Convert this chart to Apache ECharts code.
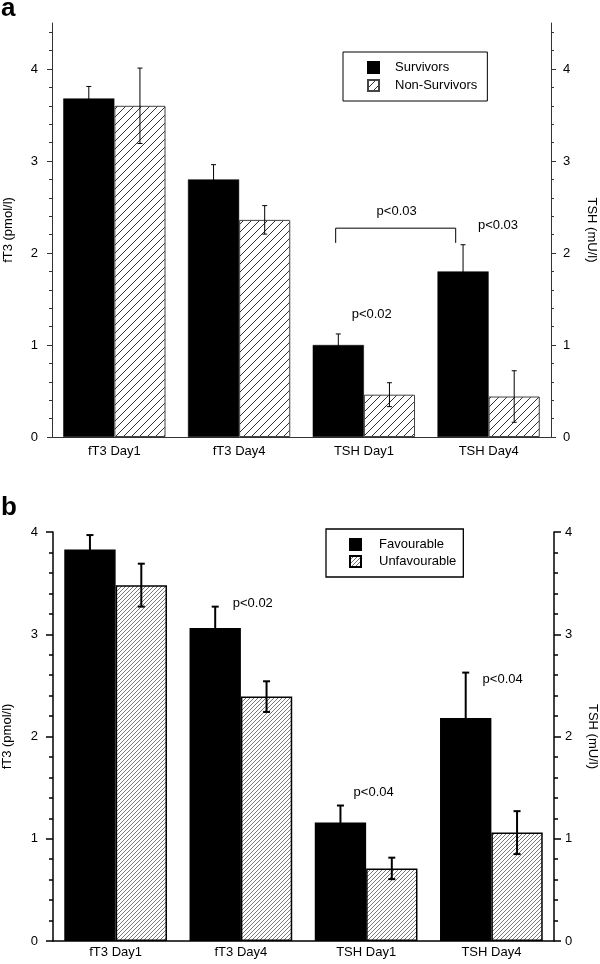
<!DOCTYPE html>
<html>
<head>
<meta charset="utf-8">
<script src="https://cdn.jsdelivr.net/npm/echarts@6/dist/echarts.min.js"></script>
<style>
html,body{margin:0;padding:0;background:#fff;}
#chart{width:600px;height:964px;}
</style>
</head>
<body>
<div id="chart"></div>
<script>
// ---------- data ----------
const categories = ['fT3 Day1', 'fT3 Day4', 'TSH Day1', 'TSH Day4'];

// panel a
const survivors        = [3.68, 2.80, 1.00, 1.80];
const survivorsErr     = [0.13, 0.16, 0.12, 0.29];
const nonSurvivors     = [3.60, 2.36, 0.46, 0.44];
const nonSurvivorsErr  = [0.41, 0.155, 0.13, 0.28];

// panel b
const favourable       = [3.83, 3.06, 1.16, 2.18];
const favourableErr    = [0.14, 0.21, 0.165, 0.445];
const unfavourable     = [3.48, 2.39, 0.71, 1.06];
const unfavourableErr  = [0.21, 0.15, 0.105, 0.21];

// axis ticks
const majorTicks  = [0, 1, 2, 3, 4];
const minorTicksA = [0.2,0.4,0.6,0.8,1.2,1.4,1.6,1.8,2.2,2.4,2.6,2.8,3.2,3.4,3.6,3.8,4.2,4.4];
const minorTicksB = [0.2,0.4,0.6,0.8,1.2,1.4,1.6,1.8,2.2,2.4,2.6,2.8,3.2,3.4,3.6,3.8];
const yMaxA = 4.5;
const yMaxB = 4;

// annotations: category index, offset within band (fraction of band), value, text
const notesA = [
  {cat: 2, dx: 0.063, y: 1.33, text: 'p<0.02'},
  {cat: 2, dx: 0.263, y: 2.45, text: 'p<0.03'},
  {cat: 3, dx: 0.075, y: 2.30, text: 'p<0.03'}
];
const bracketA = [{cat1: 2, dx1: -0.226, cat2: 3, dx2: -0.264, top: 2.27, leg: 2.11}];
const notesB = [
  {cat: 1, dx: 0.095, y: 3.30, text: 'p<0.02'},
  {cat: 2, dx: 0.060, y: 1.45, text: 'p<0.04'},
  {cat: 3, dx: 0.090, y: 2.56, text: 'p<0.04'}
];

// ---------- styles ----------
const FONT = '"Liberation Sans", Arial, Helvetica, sans-serif';
const BAR_FRAC = 0.41;

function hatch(size, color, lw) {
  const c = document.createElement('canvas');
  c.width = size; c.height = size;
  const ctx = c.getContext('2d');
  ctx.fillStyle = '#fff';
  ctx.fillRect(0, 0, size, size);
  ctx.strokeStyle = color;
  ctx.lineWidth = lw;
  ctx.beginPath();
  ctx.moveTo(0, size); ctx.lineTo(size, 0);
  ctx.moveTo(-size/2, size/2); ctx.lineTo(size/2, -size/2);
  ctx.moveTo(size/2, size*1.5); ctx.lineTo(size*1.5, size/2);
  ctx.stroke();
  return {image: c, repeat: 'repeat'};
}
const hatchA = hatch(8, '#333', 1);
const hatchB = hatch(4, '#777', 1);

function errSeries(xIdx, yIdx, vals, errs, side, lw, cap, color) {
  return {
    type: 'custom', xAxisIndex: xIdx, yAxisIndex: yIdx, z: 10, silent: true,
    data: vals.map((v, i) => [i, v - errs[i], v + errs[i]]),
    renderItem: function (params, api) {
      const c = api.value(0);
      const lo = api.coord([c, api.value(1)]);
      const hi = api.coord([c, api.value(2)]);
      const bw = api.size([1, 0])[0] * BAR_FRAC;
      const x = lo[0] + side * bw / 2;
      const st = {stroke: color, lineWidth: lw, fill: null};
      return {type: 'group', children: [
        {type: 'line', shape: {x1: x, y1: lo[1], x2: x, y2: hi[1]}, style: st},
        {type: 'line', shape: {x1: x - cap, y1: hi[1], x2: x + cap, y2: hi[1]}, style: st},
        {type: 'line', shape: {x1: x - cap, y1: lo[1], x2: x + cap, y2: lo[1]}, style: st}
      ]};
    }
  };
}

function noteSeries(xIdx, yIdx, notes, size) {
  return {
    type: 'custom', xAxisIndex: xIdx, yAxisIndex: yIdx, z: 11, silent: true,
    data: notes.map(n => [n.cat, n.y, n.dx]),
    renderItem: function (params, api) {
      const p = api.coord([api.value(0), api.value(1)]);
      const band = api.size([1, 0])[0];
      const n = notes[params.dataIndex];
      return {type: 'text', x: p[0] + api.value(2) * band, y: p[1],
        style: {text: n.text, fill: '#000', fontSize: size, fontFamily: FONT,
                align: 'center', verticalAlign: 'middle'}};
    }
  };
}

function bracketSeries(xIdx, yIdx, br) {
  return {
    type: 'custom', xAxisIndex: xIdx, yAxisIndex: yIdx, z: 11, silent: true,
    data: br.map(b => [b.cat1, b.cat2, b.top, b.leg]),
    renderItem: function (params, api) {
      const b = br[params.dataIndex];
      const band = api.size([1, 0])[0];
      const p1 = api.coord([b.cat1, b.top]);
      const p2 = api.coord([b.cat2, b.top]);
      const pl = api.coord([b.cat1, b.leg]);
      const x1 = p1[0] + b.dx1 * band, x2 = p2[0] + b.dx2 * band;
      return {type: 'polyline', shape: {points: [[x1, pl[1]], [x1, p1[1]], [x2, p1[1]], [x2, pl[1]]]},
        style: {stroke: '#000', lineWidth: 1, fill: null}};
    }
  };
}

function yAxes(grid, max, minor, pos, name, rot, gap, lineColor, lineW, majLen, minLen, labelMargin) {
  return [
    {type: 'value', gridIndex: grid, position: pos, min: 0, max: max, interval: 1,
     name: name, nameLocation: 'middle', nameGap: gap, nameRotate: rot,
     nameTextStyle: {fontSize: 13, color: '#000', fontFamily: FONT},
     axisLine: {show: true, lineStyle: {color: lineColor, width: lineW}},
     axisTick: {show: true, customValues: majorTicks, length: majLen, lineStyle: {color: lineColor, width: lineW}},
     axisLabel: {show: true, customValues: majorTicks, margin: labelMargin, fontSize: 13, color: '#000', fontFamily: FONT},
     splitLine: {show: false}},
    {type: 'value', gridIndex: grid, position: pos, min: 0, max: max, interval: 0.2,
     axisLine: {show: false},
     axisTick: {show: true, customValues: minor, length: minLen, lineStyle: {color: lineColor, width: lineW}},
     axisLabel: {show: false},
     splitLine: {show: false}}
  ];
}

const chart = echarts.init(document.getElementById('chart'), null, {renderer: 'canvas'});

const option = {
  animation: false,
  backgroundColor: '#fff',
  title: [
    {text: 'a', left: 1, top: -4, padding: 0, textStyle: {fontSize: 26, fontWeight: 'bold', color: '#000', fontFamily: FONT}},
    {text: 'b', left: 1, top: 495, padding: 0, textStyle: {fontSize: 26, fontWeight: 'bold', color: '#000', fontFamily: FONT}}
  ],
  legend: [
    {data: ['Survivors', 'Non-Survivors'], orient: 'vertical', left: 343, top: 52, icon: 'rect',
     itemWidth: 11, itemHeight: 11, itemGap: 5, padding: [9, 10, 9, 24],
     borderColor: '#000', borderWidth: 1, selectedMode: false,
     textStyle: {fontSize: 13, color: '#000', fontFamily: FONT, padding: [0, 0, 0, 11]}},
    {data: ['Favourable', 'Unfavourable'], orient: 'vertical', left: 326, top: 529, icon: 'rect',
     itemWidth: 11, itemHeight: 11, itemGap: 4, padding: [9, 7, 9, 23],
     borderColor: '#000', borderWidth: 1.3, selectedMode: false,
     textStyle: {fontSize: 13, color: '#000', fontFamily: FONT, padding: [0, 0, 0, 13]}}
  ],
  grid: [
    {left: 52, right: 49, top: 23, height: 414, outerBoundsMode: 'none', containLabel: false},
    {left: 53, right: 46, top: 532, height: 409, outerBoundsMode: 'none', containLabel: false}
  ],
  xAxis: [
    {type: 'category', gridIndex: 0, data: categories,
     axisLine: {lineStyle: {color: '#333', width: 1}}, axisTick: {show: false},
     axisLabel: {fontSize: 13, color: '#000', margin: 8, fontFamily: FONT}},
    {type: 'category', gridIndex: 1, data: categories,
     axisLine: {lineStyle: {color: '#000', width: 1.5}}, axisTick: {show: false},
     axisLabel: {fontSize: 13, color: '#000', margin: 5, fontFamily: FONT}}
  ],
  yAxis: [].concat(
    yAxes(0, yMaxA, minorTicksA, 'left', 'fT3 (pmol/l)', 90, 37, '#333', 1, 5, 3, 14),
    yAxes(0, yMaxA, minorTicksA, 'right', 'TSH (mU/l)', -90, 34, '#333', 1, 5, 3, 12),
    yAxes(1, yMaxB, minorTicksB, 'left', 'fT3 (pmol/l)', 90, 39, '#000', 1.5, 7, 4, 15),
    yAxes(1, yMaxB, minorTicksB, 'right', 'TSH (mU/l)', -90, 32, '#000', 1.5, 7, 4, 11)
  ),
  series: [
    {name: 'Survivors', type: 'bar', xAxisIndex: 0, yAxisIndex: 0, data: survivors,
     barWidth: '41%', barGap: '0%',
     itemStyle: {color: '#000', borderColor: '#000', borderWidth: 0.5}},
    {name: 'Non-Survivors', type: 'bar', xAxisIndex: 0, yAxisIndex: 0, data: nonSurvivors,
     barWidth: '41%', barGap: '0%',
     itemStyle: {color: hatchA, borderColor: '#444', borderWidth: 1}},
    {name: 'Favourable', type: 'bar', xAxisIndex: 1, yAxisIndex: 4, data: favourable,
     barWidth: '41%', barGap: '0%',
     itemStyle: {color: '#000', borderColor: '#000', borderWidth: 1.5}},
    {name: 'Unfavourable', type: 'bar', xAxisIndex: 1, yAxisIndex: 4, data: unfavourable,
     barWidth: '41%', barGap: '0%',
     itemStyle: {color: hatchB, borderColor: '#000', borderWidth: 1.5}},
    errSeries(0, 0, survivors, survivorsErr, -1, 1, 2.5, '#000'),
    errSeries(0, 0, nonSurvivors, nonSurvivorsErr, 1, 1, 2.5, '#000'),
    errSeries(1, 4, favourable, favourableErr, -1, 2, 3.5, '#000'),
    errSeries(1, 4, unfavourable, unfavourableErr, 1, 2, 3.5, '#000'),
    noteSeries(0, 0, notesA, 13),
    bracketSeries(0, 0, bracketA),
    noteSeries(1, 4, notesB, 13)
  ]
};
chart.setOption(option);
</script>
</body>
</html>
